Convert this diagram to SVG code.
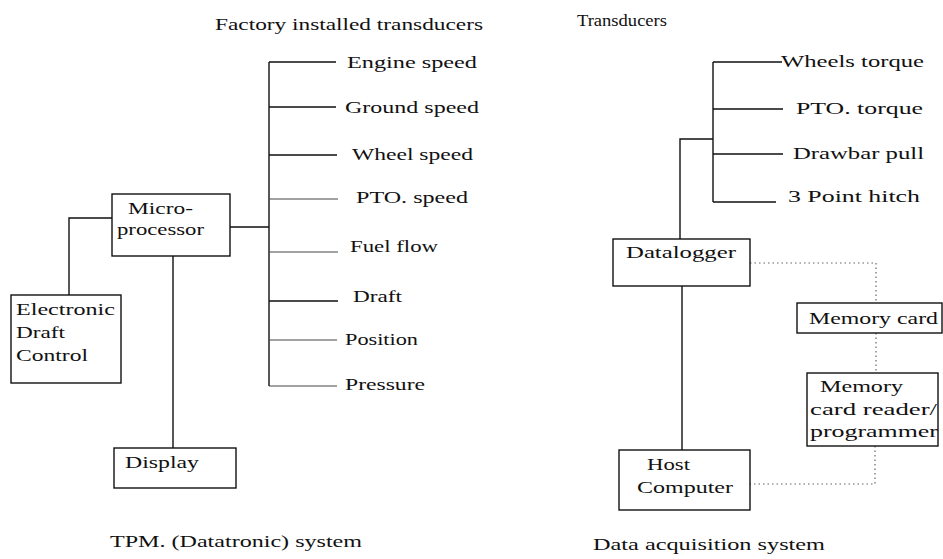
<svg xmlns="http://www.w3.org/2000/svg" width="943" height="559" viewBox="0 0 943 559">
<style>
text{font-family:"Liberation Serif","Times New Roman",serif;font-size:17px;fill:#111}
.box{fill:#fff;stroke:#111;stroke-width:1.4}
.ln{fill:none;stroke:#111;stroke-width:1.4}
.lt{fill:none;stroke:#444;stroke-width:1}
.dot{fill:none;stroke:#666;stroke-width:1.2;stroke-dasharray:1.5 3}
</style>
<rect width="943" height="559" fill="#fff"/>
<text x="215" y="30" textLength="268" lengthAdjust="spacingAndGlyphs">Factory installed transducers</text>
<text x="577" y="26" textLength="90" lengthAdjust="spacingAndGlyphs">Transducers</text>
<text x="110" y="547" textLength="252" lengthAdjust="spacingAndGlyphs">TPM. (Datatronic) system</text>
<text x="593" y="550" textLength="232" lengthAdjust="spacingAndGlyphs">Data acquisition system</text>
<g id="connectors">
<path class="ln" d="M269 62V386M269 62H336M269 107H336M269 155H337M269 301H338"/>
<path class="lt" d="M269 199H338M269 252H338M269 340H337M269 386H337"/>
<path class="ln" d="M230 227H269M112 218H69V295M173 256V448"/>
<path class="ln" d="M713 62V202M713 62H782M713 109H783M713 154H783M713 202H776M713 139H680V239M682 286V450"/>
<path class="dot" d="M750 263H876V303M876 333V373M875 446V484H750"/>
</g>
<g id="transducers-left">
<text x="347" y="68" textLength="130" lengthAdjust="spacingAndGlyphs">Engine speed</text>
<text x="345" y="113" textLength="134" lengthAdjust="spacingAndGlyphs">Ground speed</text>
<text x="352" y="160" textLength="121" lengthAdjust="spacingAndGlyphs">Wheel speed</text>
<text x="356" y="203" textLength="112" lengthAdjust="spacingAndGlyphs">PTO. speed</text>
<text x="350" y="252" textLength="88" lengthAdjust="spacingAndGlyphs">Fuel flow</text>
<text x="353" y="302" textLength="49" lengthAdjust="spacingAndGlyphs">Draft</text>
<text x="345" y="345" textLength="73" lengthAdjust="spacingAndGlyphs">Position</text>
<text x="345" y="390" textLength="80" lengthAdjust="spacingAndGlyphs">Pressure</text>
</g>
<g id="transducers-right">
<text x="781" y="67" textLength="143" lengthAdjust="spacingAndGlyphs">Wheels torque</text>
<text x="796" y="114" textLength="127" lengthAdjust="spacingAndGlyphs">PTO.  torque</text>
<text x="793" y="159" textLength="131" lengthAdjust="spacingAndGlyphs">Drawbar pull</text>
<text x="788" y="202" textLength="132" lengthAdjust="spacingAndGlyphs">3 Point hitch</text>
</g>
<g id="microprocessor">
<rect class="box" x="112" y="194" width="118" height="62"/>
<text x="128" y="214" textLength="65" lengthAdjust="spacingAndGlyphs">Micro-</text>
<text x="117" y="235" textLength="87" lengthAdjust="spacingAndGlyphs">processor</text>
</g>
<g id="edc">
<rect class="box" x="11" y="295" width="110" height="88"/>
<text x="16" y="315" textLength="99" lengthAdjust="spacingAndGlyphs">Electronic</text>
<text x="16" y="338" textLength="49" lengthAdjust="spacingAndGlyphs">Draft</text>
<text x="16" y="361" textLength="72" lengthAdjust="spacingAndGlyphs">Control</text>
</g>
<g id="display">
<rect class="box" x="114" y="448" width="122" height="40"/>
<text x="125" y="468" textLength="74" lengthAdjust="spacingAndGlyphs">Display</text>
</g>
<g id="datalogger">
<rect class="box" x="613" y="239" width="137" height="47"/>
<text x="626" y="258" textLength="110" lengthAdjust="spacingAndGlyphs">Datalogger</text>
</g>
<g id="memory-card">
<rect class="box" x="797" y="303" width="145" height="30"/>
<text x="809" y="324" textLength="129" lengthAdjust="spacingAndGlyphs">Memory card</text>
</g>
<g id="card-reader">
<rect class="box" x="807" y="373" width="131" height="73"/>
<text x="820" y="392" textLength="83" lengthAdjust="spacingAndGlyphs">Memory</text>
<text x="810" y="415" textLength="127" lengthAdjust="spacingAndGlyphs">card reader/</text>
<text x="810" y="437" textLength="128" lengthAdjust="spacingAndGlyphs">programmer</text>
</g>
<g id="host-computer">
<rect class="box" x="619" y="450" width="131" height="60"/>
<text x="647" y="470" textLength="43" lengthAdjust="spacingAndGlyphs">Host</text>
<text x="637" y="493" textLength="96" lengthAdjust="spacingAndGlyphs">Computer</text>
</g>
</svg>
